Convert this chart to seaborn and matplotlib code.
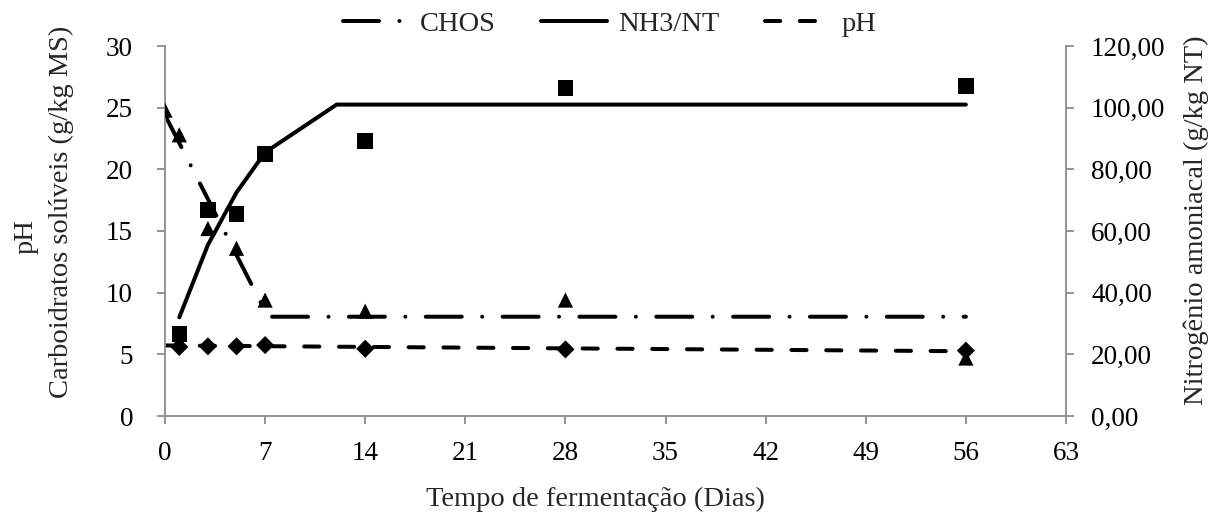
import matplotlib
matplotlib.use("Agg")
import matplotlib.pyplot as plt
from matplotlib.ticker import FuncFormatter, MultipleLocator
from matplotlib.lines import Line2D
from matplotlib.transforms import blended_transform_factory
import seaborn as sns

# Observed values
chos_days = [0, 1, 3, 5, 7, 14, 28, 56]
chos_vals = [24.8, 22.8, 15.2, 13.6, 9.4, 8.5, 9.4, 4.7]

nh3_days = [1, 3, 5, 7, 14, 28, 56]
nh3_vals = [26.6, 66.8, 65.5, 85.0, 89.2, 106.4, 107.0]

ph_days = [1, 3, 5, 7, 14, 28, 56]
ph_vals = [5.6, 5.65, 5.65, 5.75, 5.45, 5.4, 5.3]

# Fitted trend lines (break points)
chos_fit_days = [0, 7.2, 56]
chos_fit_vals = [24.4, 8.05, 8.05]

nh3_fit_days = [1, 3, 5, 7, 12, 56]
nh3_fit_vals = [32.0, 55.5, 72.5, 85.5, 101.0, 101.0]

ph_fit_days = [0, 56]
ph_fit_vals = [5.72, 5.25]

x_ticks = list(range(0, 64, 7))

sns.set_theme(style="white")
plt.rcParams["font.family"] = ["Liberation Serif", "DejaVu Serif"]

FS = 20.5
TFS = 19.5
AXC = "#8c8c8c"
LW = 4.0 * 72 / 100

W, H = 1212, 512
L, R, T, B = 165, 1066, 46, 416

fig = plt.figure(figsize=(W / 100, H / 100), dpi=100)
ax = fig.add_axes([L / W, 1 - B / H, (R - L) / W, (B - T) / H])
ax2 = ax.twinx()

chos_ls = (0, (9.0, 5.1, 0.01, 5.1))
ph_ls = (0, (3.8, 4.9))

# Trend lines
sns.lineplot(x=chos_fit_days, y=chos_fit_vals, ax=ax, color="black", lw=LW,
             linestyle=chos_ls, dash_capstyle="round", estimator=None, sort=False)
sns.lineplot(x=ph_fit_days, y=ph_fit_vals, ax=ax, color="black", lw=LW,
             linestyle=ph_ls, dash_capstyle="round", estimator=None, sort=False)
sns.lineplot(x=nh3_fit_days, y=nh3_fit_vals, ax=ax2, color="black", lw=LW,
             solid_capstyle="round", solid_joinstyle="round", estimator=None, sort=False)

# Observed points
sns.scatterplot(x=chos_days, y=chos_vals, ax=ax, marker="^", s=120, color="black",
                edgecolor="none", zorder=5)
sns.scatterplot(x=ph_days, y=ph_vals, ax=ax, marker="D", s=85, color="black",
                edgecolor="none", zorder=5)
sns.scatterplot(x=nh3_days, y=nh3_vals, ax=ax2, marker="s", s=125, color="black",
                edgecolor="none", zorder=5)

ax.set_xlim(0, 63)
ax.set_ylim(0, 30)
ax2.set_ylim(0, 120)
ax.set_xticks(x_ticks)
ax.yaxis.set_major_locator(MultipleLocator(5))
ax2.yaxis.set_major_locator(MultipleLocator(20))
ax2.yaxis.set_major_formatter(FuncFormatter(lambda v, p: f"{v:.2f}".replace(".", ",")))

for a in (ax, ax2):
    a.grid(False)
    a.spines["top"].set_visible(False)
    for s in ("left", "right", "bottom"):
        a.spines[s].set_color(AXC)
        a.spines[s].set_linewidth(1.3)
    a.tick_params(colors=AXC, labelcolor="black", labelsize=TFS, length=6, width=1.3)
ax.spines["right"].set_visible(False)
ax2.spines["left"].set_visible(False)
ax2.spines["bottom"].set_visible(False)
ax.tick_params(axis="y", left=True, pad=17)
ax.tick_params(axis="x", bottom=True, pad=12)
ax2.tick_params(axis="y", right=True, pad=12)

# Axis titles
px = lambda x: (x - L) / (R - L)
py = lambda y: (B - y) / (B - T)
ax.text(px(595), py(506), "Tempo de fermentação (Dias)", transform=ax.transAxes,
        ha="center", va="baseline", fontsize=FS)
ax.text(px(68), py(212), "Carboidratos solúveis (g/kg MS)", transform=ax.transAxes,
        rotation=90, rotation_mode="anchor", ha="center", va="baseline", fontsize=FS)
ax.text(px(33), py(237), "pH", transform=ax.transAxes,
        rotation=90, rotation_mode="anchor", ha="center", va="baseline", fontsize=FS)
ax.text(px(1203), py(220), "Nitrogênio amoniacal (g/kg NT)", transform=ax.transAxes,
        rotation=90, rotation_mode="anchor", ha="center", va="baseline", fontsize=FS)

handles = [
    Line2D([], [], color="black", lw=LW, linestyle=chos_ls, dash_capstyle="round"),
    Line2D([], [], color="black", lw=LW, solid_capstyle="round"),
    Line2D([], [], color="black", lw=LW, linestyle=ph_ls, dash_capstyle="round"),
]
fig.legend(handles, ["CHOS", "NH3/NT", "pH"], loc="center",
           bbox_to_anchor=(610 / W, 1 - 24 / H), ncol=3, frameon=False,
           fontsize=FS, handlelength=2.3, handletextpad=0.4, columnspacing=1.6)

fig.savefig("out.png", dpi=100)
